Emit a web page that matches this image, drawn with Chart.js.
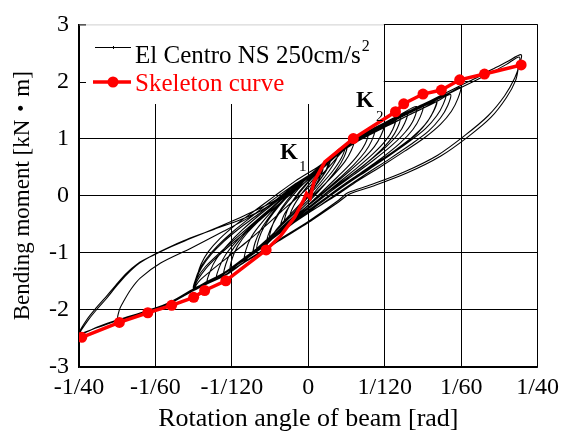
<!DOCTYPE html>
<html>
<head>
<meta charset="utf-8">
<script src="https://cdn.jsdelivr.net/npm/chart.js@4"></script>
<style>
  html, body { margin: 0; padding: 0; background: #fff; }
  #wrap { width: 565px; height: 435px; }
</style>
</head>
<body>
<div id="wrap"><canvas id="chart" width="565" height="435"></canvas></div>
<script>
// x tick positions (rad) and their labels
const xTickValues = [-3 / 120, -2 / 120, -1 / 120, 0, 1 / 120, 2 / 120, 3 / 120];
const xTickLabels = ['-1/40', '-1/60', '-1/120', '0', '1/120', '1/60', '1/40'];

// skeleton curve [rad], [kN·m]
const skeletonAngle = [-0.0247, -0.0206, -0.0175, -0.0149, -0.0125, -0.0113, -0.0090, -0.0046,
  -0.0030, -0.0015, -0.0005, -0.0002, 0.0002, 0.0006, 0.0018, 0.0040,
  0.0049, 0.0095, 0.0104, 0.0125, 0.0145, 0.0165, 0.0192, 0.0232];
const skeletonMoment = [-2.48, -2.22, -2.05, -1.92, -1.78, -1.66, -1.49, -0.95,
  -0.70, -0.38, -0.07, 0.04, -0.04, 0.24, 0.59, 0.88,
  1.00, 1.47, 1.61, 1.78, 1.85, 2.03, 2.13, 2.29];

// El Centro response, [rad, kN·m] in time order
const historyPart1 = [
  [0, 0], [0.0006, 0.18], [0.0012, 0.36], [0.0016, 0.47],
  [0.0012, 0.30], [0.0004, 0.08], [-0.0006, -0.14], [-0.0014, -0.28], [-0.0020, -0.36],
  [-0.0016, -0.18], [-0.0008, 0.02], [0.0004, 0.26], [0.0014, 0.45], [0.0024, 0.62],
  [0.0020, 0.45], [0.0010, 0.22], [-0.0004, -0.06], [-0.0018, -0.30], [-0.0030, -0.52],
  [-0.0026, -0.32], [-0.0016, -0.08], [-0.0002, 0.20], [0.0014, 0.46], [0.0033, 0.77],
  [0.0030, 0.62], [0.0022, 0.42], [0.0010, 0.17], [-0.0006, -0.10], [-0.0024, -0.40], [-0.0036, -0.62], [-0.0046, -0.88],
  [-0.0044, -0.70], [-0.0038, -0.48], [-0.0028, -0.22], [-0.0014, 0.06], [0.0000, 0.29], [0.0016, 0.52], [0.0034, 0.78], [0.0050, 0.97],
  [0.0047, 0.80], [0.0040, 0.60], [0.0028, 0.37], [0.0012, 0.11], [-0.0006, -0.17], [-0.0026, -0.47], [-0.0046, -0.78], [-0.0060, -0.98], [-0.0070, -1.15],
  [-0.0068, -0.95], [-0.0062, -0.72], [-0.0050, -0.46], [-0.0034, -0.18], [-0.0014, 0.13], [0.0005, 0.39], [0.0025, 0.65], [0.0050, 0.94], [0.0065, 1.06], [0.0082, 1.21],
  [0.0079, 1.05], [0.0072, 0.86], [0.0060, 0.65], [0.0044, 0.42], [0.0025, 0.16], [0.0004, -0.12], [-0.0020, -0.42], [-0.0046, -0.80], [-0.0070, -1.10], [-0.0092, -1.40],
  [-0.0090, -1.20], [-0.0084, -0.98], [-0.0072, -0.72], [-0.0056, -0.45], [-0.0036, -0.15], [-0.0014, 0.17], [0.0010, 0.45], [0.0033, 0.75], [0.0050, 0.93], [0.0065, 1.07], [0.0082, 1.22], [0.0095, 1.33], [0.0108, 1.44]
];

const historyPart2 = [
  [0.0105, 1.27], [0.0098, 1.08], [0.0085, 0.86], [0.0068, 0.63], [0.0048, 0.38], [0.0026, 0.12], [0.0002, -0.18], [-0.0025, -0.50], [-0.0046, -0.80], [-0.0070, -1.10], [-0.0092, -1.36], [-0.0110, -1.52],
  [-0.0107, -1.32], [-0.0100, -1.10], [-0.0088, -0.86], [-0.0072, -0.60], [-0.0052, -0.32], [-0.0030, -0.04], [-0.0008, 0.24], [0.0015, 0.50], [0.0033, 0.79], [0.0050, 0.97], [0.0065, 1.10], [0.0082, 1.24], [0.0095, 1.35], [0.0108, 1.45], [0.0125, 1.58],
  [0.0122, 1.38], [0.0114, 1.16], [0.0100, 0.92], [0.0080, 0.66], [0.0057, 0.40], [0.0033, 0.13], [0.0008, -0.17], [-0.0020, -0.49], [-0.0046, -0.82], [-0.0070, -1.10], [-0.0092, -1.36], [-0.0110, -1.50], [-0.0125, -1.63],
  [-0.0122, -1.45], [-0.0116, -1.25], [-0.0106, -1.03], [-0.0092, -0.80], [-0.0075, -0.57], [-0.0055, -0.33], [-0.0035, -0.07], [-0.0013, 0.21], [0.0013, 0.48], [0.0033, 0.77], [0.0050, 0.96], [0.0065, 1.09], [0.0082, 1.23], [0.0095, 1.33], [0.0108, 1.44], [0.0125, 1.57], [0.0140, 1.69],
  [0.0137, 1.50], [0.0130, 1.30], [0.0118, 1.08], [0.0100, 0.85], [0.0078, 0.60], [0.0054, 0.34], [0.0030, 0.07], [0.0005, -0.22], [-0.0022, -0.52], [-0.0046, -0.83], [-0.0070, -1.11], [-0.0095, -1.38], [-0.0112, -1.52], [-0.0124, -1.62],
  [-0.0118, -1.48], [-0.0105, -1.30], [-0.0088, -1.08], [-0.0068, -0.82], [-0.0046, -0.52], [-0.0024, -0.20], [0.0000, 0.14], [0.0020, 0.46], [0.0040, 0.82], [0.0050, 0.92], [0.0065, 1.05], [0.0082, 1.19], [0.0095, 1.29], [0.0108, 1.40], [0.0125, 1.53], [0.0140, 1.65], [0.0155, 1.77],
  [0.0152, 1.58], [0.0144, 1.36], [0.0131, 1.13], [0.0112, 0.90], [0.0089, 0.65], [0.0063, 0.38], [0.0037, 0.10], [0.0010, -0.20], [-0.0018, -0.50], [-0.0046, -0.84], [-0.0070, -1.12], [-0.0092, -1.37], [-0.0110, -1.51], [-0.0125, -1.62],
  [-0.0121, -1.44], [-0.0112, -1.24], [-0.0098, -1.02], [-0.0080, -0.76], [-0.0060, -0.48], [-0.0038, -0.18], [-0.0014, 0.14], [0.0010, 0.44], [0.0033, 0.74], [0.0050, 0.95], [0.0065, 1.08], [0.0082, 1.22], [0.0095, 1.33], [0.0108, 1.44], [0.0125, 1.57], [0.0140, 1.69], [0.0155, 1.81], [0.0166, 1.90],
  [0.0163, 1.70], [0.0156, 1.48], [0.0144, 1.25], [0.0127, 1.02], [0.0105, 0.78], [0.0080, 0.52], [0.0054, 0.26], [0.0028, -0.02], [0.0000, -0.30], [-0.0030, -0.62], [-0.0046, -0.86], [-0.0070, -1.13], [-0.0092, -1.37], [-0.0110, -1.51], [-0.0125, -1.63]
];

const historyPart3 = [
  [-0.0150, -1.86], [-0.0175, -2.01], [-0.0207, -2.17], [-0.0230, -2.30], [-0.0250, -2.43],
  [-0.0240, -2.18], [-0.0230, -1.98], [-0.0220, -1.80], [-0.0209, -1.58], [-0.0198, -1.38], [-0.0184, -1.18], [-0.0168, -1.03], [-0.0150, -0.89], [-0.0136, -0.79], [-0.0120, -0.69], [-0.0103, -0.59], [-0.0074, -0.42], [-0.0050, -0.25], [-0.0036, -0.10], [-0.0014, 0.20], [0.0014, 0.49], [0.0033, 0.80], [0.0050, 0.99], [0.0082, 1.26], [0.0108, 1.47], [0.0125, 1.60], [0.0140, 1.72], [0.0166, 1.93], [0.0185, 2.08], [0.0200, 2.21], [0.0216, 2.34], [0.0232, 2.47],
  [0.0230, 2.29], [0.0225, 2.06], [0.0214, 1.75], [0.0196, 1.40], [0.0171, 1.06], [0.0141, 0.71], [0.0105, 0.42], [0.0068, 0.19], [0.0043, 0.05], [0.0033, -0.08], [0.0000, -0.45], [-0.0033, -0.78], [-0.0046, -0.92], [-0.0070, -1.16], [-0.0090, -1.38], [-0.0110, -1.53], [-0.0125, -1.65], [-0.0150, -1.87], [-0.0175, -2.02], [-0.0207, -2.18], [-0.0230, -2.31], [-0.0250, -2.41],
  [-0.0241, -2.16], [-0.0231, -1.96], [-0.0221, -1.78], [-0.0210, -1.57], [-0.0199, -1.37], [-0.0186, -1.19], [-0.0170, -1.05], [-0.0152, -0.91], [-0.0130, -0.76], [-0.0100, -0.56], [-0.0070, -0.35], [-0.0036, -0.08], [-0.0014, 0.21], [0.0014, 0.48], [0.0033, 0.76], [0.0050, 0.95], [0.0082, 1.22], [0.0108, 1.43], [0.0125, 1.56], [0.0140, 1.68], [0.0166, 1.89], [0.0185, 2.04], [0.0200, 2.16], [0.0216, 2.30], [0.0230, 2.43],
  [0.0229, 2.25], [0.0226, 2.02], [0.0216, 1.72], [0.0199, 1.37], [0.0174, 1.03], [0.0144, 0.69], [0.0108, 0.40], [0.0071, 0.17], [0.0045, 0.03], [0.0033, -0.11], [0.0000, -0.47], [-0.0033, -0.80], [-0.0046, -0.94], [-0.0070, -1.17], [-0.0090, -1.39], [-0.0110, -1.54], [-0.0125, -1.66], [-0.0150, -1.88], [-0.0175, -2.03], [-0.0207, -2.17],
  [-0.0206, -2.00], [-0.0201, -1.84], [-0.0193, -1.63], [-0.0183, -1.44], [-0.0161, -1.18], [-0.0128, -0.92], [-0.0092, -0.62], [-0.0060, -0.34], [-0.0036, -0.10], [-0.0014, 0.19], [0.0014, 0.46], [0.0033, 0.73], [0.0050, 0.92], [0.0082, 1.19], [0.0108, 1.40], [0.0125, 1.53], [0.0140, 1.65]
];

const historyPart4 = [
  [0.0136, 1.46], [0.0127, 1.24], [0.0113, 1.02], [0.0094, 0.79], [0.0072, 0.55], [0.0048, 0.29], [0.0024, 0.02], [-0.0002, -0.28], [-0.0028, -0.60], [-0.0046, -0.84], [-0.0070, -1.12], [-0.0092, -1.36], [-0.0110, -1.51], [-0.0125, -1.62],
  [-0.0123, -1.47], [-0.0119, -1.30], [-0.0111, -1.10], [-0.0099, -0.88], [-0.0083, -0.64], [-0.0063, -0.38], [-0.0041, -0.10], [-0.0016, 0.19], [0.0010, 0.46], [0.0033, 0.79], [0.0050, 0.98], [0.0065, 1.11], [0.0082, 1.25], [0.0095, 1.36],
  [0.0092, 1.16], [0.0084, 0.96], [0.0071, 0.74], [0.0054, 0.50], [0.0034, 0.24], [0.0012, -0.05], [-0.0012, -0.36], [-0.0036, -0.68], [-0.0060, -0.98], [-0.0085, -1.28], [-0.0100, -1.45],
  [-0.0097, -1.25], [-0.0090, -1.03], [-0.0078, -0.79], [-0.0062, -0.53], [-0.0042, -0.24], [-0.0020, 0.06], [0.0002, 0.34], [0.0025, 0.63], [0.0050, 0.95], [0.0065, 1.08],
  [0.0062, 0.91], [0.0054, 0.71], [0.0042, 0.49], [0.0026, 0.24], [0.0008, -0.04], [-0.0012, -0.34], [-0.0034, -0.64], [-0.0050, -0.86], [-0.0060, -1.02],
  [-0.0058, -0.82], [-0.0052, -0.60], [-0.0042, -0.36], [-0.0028, -0.08], [-0.0010, 0.20], [0.0008, 0.45], [0.0028, 0.70], [0.0040, 0.85],
  [0.0036, 0.66], [0.0026, 0.42], [0.0012, 0.16], [0.0000, -0.05]
];

const historyPart5 = [
  [0.0014, 0.50], [0.0033, 0.81], [0.0050, 1.00], [0.0065, 1.13], [0.0082, 1.27], [0.0100, 1.42], [0.0118, 1.56],
  [0.0115, 1.34], [0.0106, 1.12], [0.0091, 0.88], [0.0071, 0.62], [0.0049, 0.36], [0.0025, 0.08], [0.0000, -0.22], [-0.0026, -0.54], [-0.0046, -0.80], [-0.0070, -1.09], [-0.0092, -1.35], [-0.0110, -1.50], [-0.0123, -1.60],
  [-0.0121, -1.40], [-0.0117, -1.20], [-0.0109, -0.98], [-0.0097, -0.76], [-0.0080, -0.52], [-0.0060, -0.28], [-0.0038, -0.02], [-0.0014, 0.26], [0.0012, 0.52], [0.0033, 0.78], [0.0050, 0.97], [0.0065, 1.10], [0.0082, 1.24], [0.0095, 1.34], [0.0108, 1.45], [0.0125, 1.58], [0.0140, 1.70], [0.0150, 1.78],
  [0.0147, 1.60], [0.0140, 1.40], [0.0128, 1.18], [0.0111, 0.96], [0.0090, 0.72], [0.0066, 0.46], [0.0040, 0.18], [0.0014, -0.12], [-0.0014, -0.45], [-0.0040, -0.76], [-0.0062, -1.02], [-0.0085, -1.28], [-0.0105, -1.47], [-0.0124, -1.61],
  [-0.0120, -1.46], [-0.0112, -1.28], [-0.0100, -1.08], [-0.0084, -0.85], [-0.0064, -0.58], [-0.0042, -0.28], [-0.0018, 0.04], [0.0006, 0.36], [0.0025, 0.62], [0.0040, 0.82], [0.0058, 1.00], [0.0075, 1.15], [0.0090, 1.27], [0.0100, 1.36],
  [0.0097, 1.18], [0.0090, 0.99], [0.0078, 0.78], [0.0062, 0.55], [0.0042, 0.30], [0.0020, 0.02], [-0.0004, -0.28], [-0.0028, -0.58], [-0.0050, -0.86], [-0.0072, -1.12], [-0.0085, -1.30],
  [-0.0083, -1.10], [-0.0077, -0.88], [-0.0066, -0.64], [-0.0050, -0.38], [-0.0030, -0.08], [-0.0008, 0.22], [0.0014, 0.50], [0.0033, 0.76], [0.0050, 0.93], [0.0060, 1.02], [0.0072, 1.13],
  [0.0069, 0.96], [0.0062, 0.77], [0.0050, 0.55], [0.0034, 0.31], [0.0015, 0.04], [-0.0006, -0.25], [-0.0028, -0.55], [-0.0046, -0.82], [-0.0056, -0.96],
  [-0.0054, -0.76], [-0.0048, -0.54], [-0.0038, -0.30], [-0.0024, -0.04], [-0.0006, 0.24], [0.0012, 0.48], [0.0030, 0.72], [0.0042, 0.86],
  [0.0039, 0.68], [0.0031, 0.46], [0.0018, 0.20], [0.0002, -0.08], [-0.0016, -0.36], [-0.0034, -0.64], [-0.0042, -0.76],
  [-0.0040, -0.56], [-0.0034, -0.34], [-0.0023, -0.08], [-0.0008, 0.20], [0.0008, 0.44], [0.0022, 0.62],
  [0.0019, 0.44], [0.0010, 0.22], [-0.0002, -0.04], [-0.0016, -0.30], [-0.0026, -0.46],
  [-0.0023, -0.26], [-0.0015, -0.04], [-0.0004, 0.18], [0.0008, 0.36],
  [0.0004, 0.18], [0.0000, 0.05]
];

const SERIF = '"Liberation Serif", "Times New Roman", serif';
const RED = '#ff0000';

const elCentroPoints = [...historyPart1, ...historyPart2, ...historyPart3, ...historyPart4, ...historyPart5]
  .map(([x, y]) => ({ x, y }));
const skeletonPoints = skeletonAngle.map((x, i) => ({ x, y: skeletonMoment[i] }));

// white legend box over the grid, then legend and K labels
const overlayPlugin = {
  id: 'overlay',
  beforeDatasetsDraw(chart) {
    const { ctx, chartArea } = chart;
    const boxRight = chart.scales.x.getPixelForValue(1 / 120) - 1;
    const boxBottom = 104;
    ctx.save();
    ctx.fillStyle = '#fff';
    ctx.fillRect(chartArea.left + 1, chartArea.top - 1, boxRight - chartArea.left - 1, boxBottom - chartArea.top + 1);
    ctx.strokeStyle = '#cfcfcf';
    ctx.lineWidth = 1;
    ctx.beginPath();
    ctx.moveTo(chartArea.left, chartArea.top + 0.5);
    ctx.lineTo(boxRight, chartArea.top + 0.5);
    ctx.stroke();
    // inward ticks on the left axis inside the box
    ctx.strokeStyle = '#000';
    const y2 = Math.round(chart.scales.y.getPixelForValue(2)) + 0.5;
    ctx.beginPath();
    ctx.moveTo(chartArea.left, y2);
    ctx.lineTo(chartArea.left + 7, y2);
    ctx.moveTo(chartArea.left, chartArea.top + 0.5);
    ctx.lineTo(chartArea.left + 7, chartArea.top + 0.5);
    ctx.stroke();
    ctx.restore();
  },
  afterDatasetsDraw(chart) {
    const { ctx } = chart;
    ctx.save();
    // legend line samples
    ctx.strokeStyle = '#000';
    ctx.lineWidth = 1;
    ctx.beginPath();
    ctx.moveTo(95, 47.5);
    ctx.lineTo(131, 47.5);
    ctx.moveTo(113.5, 46);
    ctx.lineTo(113.5, 49);
    ctx.stroke();
    ctx.strokeStyle = RED;
    ctx.lineWidth = 3.5;
    ctx.beginPath();
    ctx.moveTo(93, 82);
    ctx.lineTo(131, 82);
    ctx.stroke();
    ctx.fillStyle = RED;
    ctx.beginPath();
    ctx.arc(113, 82, 5.5, 0, Math.PI * 2);
    ctx.fill();

    // legend texts
    ctx.textBaseline = 'alphabetic';
    ctx.textAlign = 'left';
    ctx.font = '25px ' + SERIF;
    ctx.fillStyle = '#000';
    const t1 = 'El Centro NS 250cm/s';
    ctx.fillText(t1, 135, 63);
    const w1 = ctx.measureText(t1).width;
    ctx.font = '16px ' + SERIF;
    ctx.fillText('2', 135 + w1 + 1, 51);
    ctx.font = '25px ' + SERIF;
    ctx.fillStyle = RED;
    ctx.fillText('Skeleton curve', 135, 91);

    // stiffness labels
    ctx.fillStyle = '#000';
    ctx.font = 'bold 23px ' + SERIF;
    ctx.fillText('K', 280, 159);
    ctx.fillText('K', 356, 107);
    ctx.font = '15px ' + SERIF;
    ctx.fillText('1', 299, 171);
    ctx.fillText('2', 376, 121);
    ctx.restore();
  }
};

new Chart(document.getElementById('chart'), {
  type: 'scatter',
  data: {
    datasets: [
      {
        label: 'El Centro NS 250cm/s2',
        data: elCentroPoints,
        showLine: true,
        borderColor: '#000',
        borderWidth: 1.1,
        pointRadius: 0,
        tension: 0.3,
        order: 1
      },
      {
        label: 'Skeleton curve',
        data: skeletonPoints,
        showLine: true,
        borderColor: RED,
        borderWidth: 3.5,
        backgroundColor: RED,
        pointBackgroundColor: RED,
        pointBorderWidth: 0,
        pointRadius: ctx => Math.abs(skeletonAngle[ctx.dataIndex]) > 0.0045 ? 5.5 : 0,
        tension: 0,
        order: 0
      }
    ]
  },
  options: {
    responsive: false,
    animation: false,
    layout: { padding: { left: 0, right: 25, top: 21, bottom: 0 } },
    plugins: {
      legend: { display: false },
      tooltip: { enabled: false }
    },
    scales: {
      x: {
        type: 'linear',
        min: -0.025,
        max: 0.025,
        afterBuildTicks: scale => { scale.ticks = xTickValues.map(v => ({ value: v })); },
        afterFit: scale => { scale.height = 68; },
        ticks: {
          autoSkip: false,
          maxRotation: 0,
          padding: 6,
          color: '#000',
          font: { family: SERIF, size: 24 },
          callback: (v, i) => xTickLabels[i]
        },
        grid: { color: '#000', lineWidth: 1, drawTicks: false },
        border: { color: '#000', width: 1.5 },
        title: {
          display: true,
          text: 'Rotation angle of beam [rad]',
          color: '#000',
          font: { family: SERIF, size: 26 },
          padding: { top: 0, bottom: 0 }
        }
      },
      y: {
        min: -3,
        max: 3,
        afterFit: scale => { scale.width = 79; },
        ticks: {
          stepSize: 1,
          padding: 10,
          color: '#000',
          font: { family: SERIF, size: 24 }
        },
        grid: { color: '#000', lineWidth: 1, drawTicks: false },
        border: { color: '#000', width: 1.5 },
        title: {
          display: true,
          text: 'Bending moment [kN・m]',
          color: '#000',
          font: { family: SERIF + ', "Noto Sans CJK JP"', size: 23 },
          padding: { top: 9, bottom: 0 }
        }
      }
    }
  },
  plugins: [overlayPlugin]
});
</script>
</body>
</html>
